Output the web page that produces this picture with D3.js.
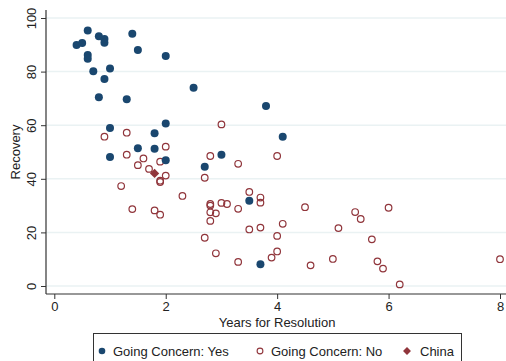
<!DOCTYPE html>
<html>
<head>
<meta charset="utf-8">
<script src="https://cdn.jsdelivr.net/npm/d3@7"></script>
<style>
  body { margin: 0; background: #fff; }
  svg { display: block; font-family: "Liberation Sans", Arial, sans-serif; }
</style>
</head>
<body>
<div id="chart"></div>
<script>
// Going Concern: Yes
var yesYears    = [0.4, 0.5, 0.6, 0.8, 0.9, 0.9, 0.6, 0.6, 1.4, 1.5, 2.0, 0.7, 1.0, 0.9, 0.8, 1.3, 2.5, 1.0, 2.0, 1.8, 1.5, 1.8, 1.0, 2.0, 2.7, 3.0, 3.8, 4.1, 3.5, 3.7];
var yesRecovery = [89.9, 90.7, 95.3, 93.2, 92.2, 90.8, 86.2, 84.8, 94.1, 88.1, 85.8, 80.1, 81.2, 77.2, 70.4, 69.7, 74.0, 59.0, 60.6, 57.0, 51.4, 51.2, 48.1, 46.9, 44.5, 49.0, 67.2, 55.7, 31.8, 8.1];

// Going Concern: No
var noYears    = [0.9, 1.3, 3.0, 2.0, 1.3, 1.5, 1.6, 1.9, 2.8, 3.3, 1.7, 2.0, 2.7, 1.2, 1.9, 1.9, 2.3, 1.4, 1.8, 1.9, 2.8, 2.8, 2.8, 2.8, 2.9, 3.0, 3.1, 3.3, 3.5, 3.5, 2.7, 2.9, 3.3, 4.0, 3.7, 3.7, 3.7, 4.1, 4.0, 4.0, 3.9, 4.5, 4.6, 5.0, 5.1, 5.4, 5.5, 6.0, 5.7, 5.8, 5.9, 6.2, 8.0];
var noRecovery = [55.7, 57.2, 60.3, 52.0, 49.0, 45.1, 47.6, 46.4, 48.5, 45.6, 43.7, 41.2, 40.4, 37.3, 39.3, 38.8, 33.6, 28.7, 28.2, 26.6, 30.6, 30.0, 27.5, 24.3, 27.1, 31.0, 30.6, 28.8, 35.1, 21.1, 18.0, 12.2, 9.0, 48.5, 33.0, 31.1, 21.8, 23.2, 18.7, 12.9, 10.6, 29.4, 7.7, 10.1, 21.6, 27.6, 25.0, 29.2, 17.4, 9.2, 6.5, 0.6, 10.0];

// China
var chinaYears    = [1.8];
var chinaRecovery = [42.0];

var xTicks = [0, 2, 4, 6, 8];
var yTicks = [0, 20, 40, 60, 80, 100];
var legendLabels = ["Going Concern: Yes", "Going Concern: No", "China"];

var navy = "#1a476f", maroon = "#90353b";
var width = 506, height = 361;

var svg = d3.select("#chart").append("svg")
    .attr("width", width)
    .attr("height", height);

// plot region edges (axis lines) and scales
var axisLeft = 46, axisBottom = 294, plotTop = 10, plotRight = 506;
var x = d3.scaleLinear().domain([0, 8]).range([54.3, 500]);
var y = d3.scaleLinear().domain([0, 100]).range([286, 18]);

// gridlines
svg.append("g")
    .selectAll("line")
    .data(yTicks)
    .enter().append("line")
    .attr("x1", axisLeft).attr("x2", plotRight)
    .attr("y1", function (d) { return y(d); })
    .attr("y2", function (d) { return y(d); })
    .attr("stroke", "#eaf2f3")
    .attr("stroke-width", 1.5);

// axes
var gx = svg.append("g")
    .attr("transform", "translate(0," + axisBottom + ")")
    .call(d3.axisBottom(x).tickValues(xTicks).tickSize(5).tickPadding(3).tickFormat(d3.format("d")));
gx.select(".domain").remove();

var gy = svg.append("g")
    .attr("transform", "translate(" + axisLeft + ",0)")
    .call(d3.axisLeft(y).tickValues(yTicks).tickSize(5).tickFormat(d3.format("d")));
gy.select(".domain").remove();
gy.selectAll(".tick text")
    .attr("transform", "rotate(-90)")
    .attr("x", 0)
    .attr("y", -10)
    .attr("dy", 0)
    .style("text-anchor", "middle");

[gx, gy].forEach(function (g) {
    g.selectAll(".tick line").attr("stroke", "#333");
    g.selectAll(".tick text").attr("fill", "#222").style("font-size", "13px");
});

svg.append("line")
    .attr("x1", axisLeft).attr("x2", plotRight)
    .attr("y1", axisBottom).attr("y2", axisBottom)
    .attr("stroke", "#333").attr("stroke-width", 1.2);
svg.append("line")
    .attr("x1", axisLeft).attr("x2", axisLeft)
    .attr("y1", plotTop).attr("y2", axisBottom)
    .attr("stroke", "#333").attr("stroke-width", 1.2);

// axis titles
svg.append("text")
    .attr("x", (x(0) + x(8)) / 2)
    .attr("y", 327)
    .attr("text-anchor", "middle")
    .style("font-size", "13px")
    .attr("fill", "#222")
    .text("Years for Resolution");

svg.append("text")
    .attr("transform", "translate(20," + ((y(0) + y(100)) / 2) + ") rotate(-90)")
    .attr("text-anchor", "middle")
    .style("font-size", "13px")
    .attr("fill", "#222")
    .text("Recovery");

// points
var noPts = noYears.map(function (d, i) { return { x: d, y: noRecovery[i] }; });
var yesPts = yesYears.map(function (d, i) { return { x: d, y: yesRecovery[i] }; });
var chinaPts = chinaYears.map(function (d, i) { return { x: d, y: chinaRecovery[i] }; });

svg.append("g").selectAll("circle")
    .data(noPts)
    .enter().append("circle")
    .attr("cx", function (d) { return x(d.x); })
    .attr("cy", function (d) { return y(d.y); })
    .attr("r", 3.3)
    .attr("fill", "none")
    .attr("stroke", maroon)
    .attr("stroke-width", 1.2);

svg.append("g").selectAll("circle")
    .data(yesPts)
    .enter().append("circle")
    .attr("cx", function (d) { return x(d.x); })
    .attr("cy", function (d) { return y(d.y); })
    .attr("r", 4)
    .attr("fill", navy);

var diamond = d3.symbol().type(d3.symbolDiamond2).size(55);
svg.append("g").selectAll("path")
    .data(chinaPts)
    .enter().append("path")
    .attr("transform", function (d) { return "translate(" + x(d.x) + "," + y(d.y) + ")"; })
    .attr("d", diamond)
    .attr("fill", maroon);

// legend
var leg = svg.append("g");
leg.append("rect")
    .attr("x", 93.5).attr("y", 333.5)
    .attr("width", 368).attr("height", 40)
    .attr("fill", "#fff")
    .attr("stroke", "#333");

var legX = [102, 260, 407];
var legItems = leg.selectAll("g.item")
    .data(legendLabels)
    .enter().append("g")
    .attr("class", "item")
    .attr("transform", function (d, i) { return "translate(" + legX[i] + ",351)"; });

legItems.each(function (d, i) {
    var g = d3.select(this);
    if (i === 0) {
        g.append("circle").attr("r", 3.3).attr("fill", navy);
    } else if (i === 1) {
        g.append("circle").attr("r", 2.9).attr("fill", "none").attr("stroke", maroon).attr("stroke-width", 1.1);
    } else {
        g.append("path").attr("d", d3.symbol().type(d3.symbolDiamond2).size(40)).attr("fill", maroon);
    }
    g.append("text")
        .attr("x", i === 2 ? 13 : 11)
        .attr("y", 4.5)
        .style("font-size", "13px")
        .attr("fill", "#222")
        .text(d);
});
</script>
</body>
</html>
